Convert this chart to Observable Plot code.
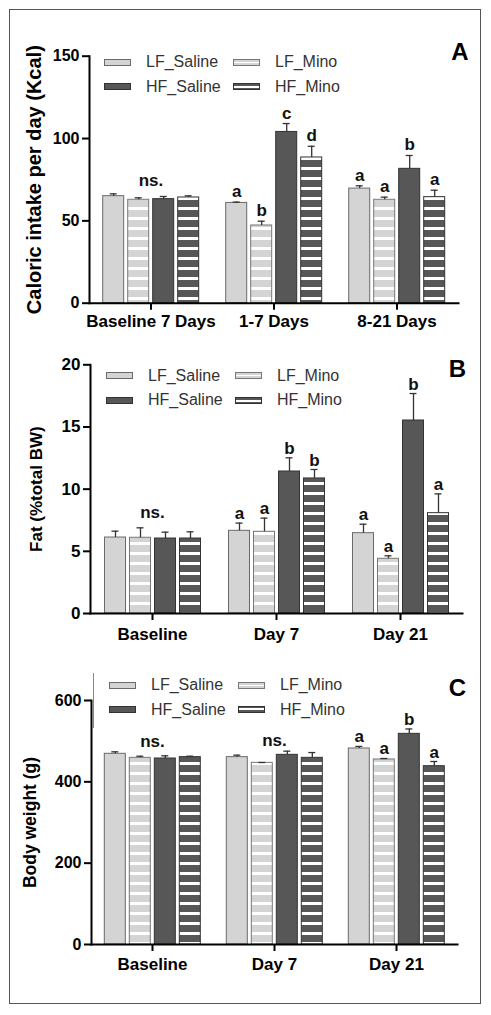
<!DOCTYPE html>
<html>
<head>
<meta charset="utf-8">
<script src="https://cdn.jsdelivr.net/npm/d3@7"></script>
<script src="https://cdn.jsdelivr.net/npm/@observablehq/plot@0.6"></script>
<style>
  html, body { margin: 0; padding: 0; background: #fff; }
  #root { position: relative; width: 491px; height: 1015px; background: #fff; font-family: "Liberation Sans", Arial, sans-serif; overflow: hidden; }
  .frame { position: absolute; left: 9px; top: 9px; width: 472px; height: 995px; border: 1px solid #555; box-sizing: border-box; }
  .panel { position: absolute; left: 0; }
  .legend { position: absolute; }
  .item { position: absolute; display: flex; align-items: center; font-size: 16px; color: #333; white-space: nowrap; }
  .sw { width: 27px; height: 7px; box-sizing: border-box; margin-right: 15px; }
  .plab { position: absolute; font-size: 24px; font-weight: bold; color: #000; transform: translate(-50%, -50%); }
</style>
</head>
<body>
<div id="root"><div class="frame"></div></div>
<script>
// ---------- data ----------
const series = ["LF_Saline", "LF_Mino", "HF_Saline", "HF_Mino"];

// Panel A: caloric intake per day (Kcal)
const intakeGroups = ["Baseline 7 Days", "1-7 Days", "8-21 Days"];
const intakeMean = [[65.0, 62.8, 63.2, 64.2], [60.9, 47.2, 104.0, 88.5], [69.6, 62.8, 81.6, 64.4]];
const intakeSem = [[1.4, 1.2, 1.6, 1.0], [0.5, 2.6, 5.1, 6.8], [1.7, 1.6, 8.1, 4.2]];
const intakeLetters = [["", "", "", ""], ["a", "b", "c", "d"], ["a", "a", "b", "a"]];
const intakeNs = ["ns.", "", ""];
const intakeTicks = [0, 50, 100, 150];

// Panel B: fat (% total BW)
const fatGroups = ["Baseline", "Day 7", "Day 21"];
const fatMean = [[6.11, 6.09, 6.03, 6.03], [6.65, 6.57, 11.42, 10.86], [6.46, 4.40, 15.52, 8.07]];
const fatSem = [[0.51, 0.80, 0.51, 0.54], [0.62, 1.10, 1.10, 0.72], [0.72, 0.24, 2.17, 1.55]];
const fatLetters = [["", "", "", ""], ["a", "a", "b", "b"], ["a", "a", "b", "a"]];
const fatNs = ["ns.", "", ""];
const fatTicks = [0, 5, 10, 15, 20];

// Panel C: body weight (g)
const bwGroups = ["Baseline", "Day 7", "Day 21"];
const bwMean = [[468.9, 459.0, 457.4, 460.7], [460.7, 446.7, 466.4, 459.0], [482.0, 455.0, 518.0, 438.5]];
const bwSem = [[4.9, 4.0, 6.6, 2.3], [4.9, 0.8, 9.0, 13.0], [5.0, 2.4, 12.0, 11.5]];
const bwLetters = [["", "", "", ""], ["", "", "", ""], ["a", "a", "b", "a"]];
const bwNs = ["ns.", "ns.", ""];
const bwTicks = [0, 200, 400, 600];

// ---------- styling ----------
const FONT = "'Liberation Sans', Arial, sans-serif";
const LIGHT = "#d4d4d4", DARK = "#575757";

function buildRows(groups, mean, sem, letters) {
  return groups.flatMap((g, i) => series.map((s, j) => ({
    group: g, series: s, mean: mean[i][j], top: mean[i][j] + sem[i][j], letter: letters[i][j]
  })));
}

function panel(cfg) {
  const rows = buildRows(cfg.groups, cfg.mean, cfg.sem, cfg.letters);
  const nsRows = cfg.groups.map((g, i) => ({
    group: g, label: cfg.ns[i],
    top: d3.max(rows.filter(r => r.group === g), r => r.top)
  })).filter(d => d.label);
  const id = cfg.id;
  const fills = {
    LF_Saline: LIGHT, LF_Mino: `url(#${id}-lfmino)`, HF_Saline: DARK, HF_Mino: `url(#${id}-hfmino)`
  };
  const strokes = {LF_Saline: "#6a6a6a", LF_Mino: "#777", HF_Saline: "#333", HF_Mino: "#333"};
  const svg = Plot.plot({
    width: 491, height: cfg.height,
    marginLeft: cfg.marginLeft, marginRight: cfg.marginRight,
    marginTop: cfg.marginTop, marginBottom: cfg.marginBottom,
    style: {fontFamily: FONT, background: "transparent", overflow: "visible", color: "#000"},
    fx: {domain: cfg.groups, padding: 0},
    x: {domain: series, paddingInner: 0.18, paddingOuter: 0.5, axis: null},
    y: {domain: cfg.yDomain, axis: null},
    marks: [
      ...series.map(s => Plot.barY(rows.filter(r => r.series === s), {
        fx: "group", x: "series", y: "mean", fill: fills[s], stroke: strokes[s], strokeWidth: 1
      })),
      Plot.ruleX(rows, {fx: "group", x: "series", y1: "mean", y2: "top", stroke: "#333", strokeWidth: 1.3}),
      Plot.tickY(rows, {fx: "group", x: "series", y: "top", insetLeft: 7, insetRight: 7, stroke: "#333", strokeWidth: 1.3}),
      Plot.text(rows.filter(r => r.letter), {
        fx: "group", x: "series", y: "top", text: "letter", lineAnchor: "bottom", dy: cfg.letterDy,
        fontSize: 17, fontWeight: "bold", fill: "#111"
      }),
      Plot.text(nsRows, {
        fx: "group", y: "top", text: "label", lineAnchor: "bottom", dy: cfg.nsDy,
        fontSize: 17, fontWeight: "bold", fill: "#111"
      }),
      Plot.frame({anchor: "left", facet: "super", stroke: "#000", strokeWidth: 2}),
      Plot.frame({anchor: "bottom", facet: "super", stroke: "#000", strokeWidth: 2}),
      Plot.axisY({ticks: cfg.ticks, tickSize: 7, tickPadding: 3, strokeWidth: 2, fontSize: cfg.tickFont, fontWeight: "bold", label: null, tickFormat: d => String(d)}),
      Plot.axisY({ticks: [], tickSize: 0, label: cfg.yLabel, labelAnchor: "center", labelArrow: "none", labelOffset: cfg.labelOffset, fontSize: cfg.titleFont, fontWeight: "bold"}),
      Plot.axisFx({anchor: "bottom", tickSize: 7, tickPadding: cfg.fxPad, strokeWidth: 2, fontSize: 17, fontWeight: "bold", label: null})
    ]
  });
  // striped fills (patterns) for the Mino groups
  const defs = d3.select(svg).insert("defs", ":first-child");
  const addPattern = (pid, color) => {
    const p = defs.append("pattern").attr("id", pid).attr("patternUnits", "userSpaceOnUse")
      .attr("width", 10).attr("height", 10);
    p.append("rect").attr("width", 10).attr("height", 10).attr("fill", color);
    p.append("rect").attr("y", 7).attr("width", 10).attr("height", 3).attr("fill", "#fff");
  };
  addPattern(`${id}-lfmino`, LIGHT);
  addPattern(`${id}-hfmino`, DARK);
  svg.classList.add("panel");
  svg.style.top = cfg.top + "px";
  return svg;
}

const root = document.getElementById("root");

function legend(x0, y0, extraClass) {
  const div = document.createElement("div");
  div.className = "legend";
  div.style.left = x0 + "px";
  div.style.top = y0 + "px";
  const swatch = {
    LF_Saline: `background:${LIGHT};border:1px solid #6a6a6a;`,
    LF_Mino: `background:linear-gradient(${LIGHT} 0 35%, #fff 35% 65%, ${LIGHT} 65%);border:1px solid #777;`,
    HF_Saline: `background:${DARK};border:1px solid #333;`,
    HF_Mino: `background:linear-gradient(${DARK} 0 30%, #fff 30% 70%, ${DARK} 70%);border:1px solid #333;`
  };
  const pos = {LF_Saline: [0, 0], LF_Mino: [129, 0], HF_Saline: [0, 24.5], HF_Mino: [129, 24.5]};
  for (const s of series) {
    const it = document.createElement("div");
    it.className = "item";
    it.style.left = pos[s][0] + "px";
    it.style.top = (pos[s][1] - 10) + "px";
    it.style.height = "20px";
    it.innerHTML = `<div class="sw" style="${swatch[s]}"></div><span>${s}</span>`;
    div.appendChild(it);
  }
  root.appendChild(div);
  return div;
}

function panelLabel(t, x, y) {
  const d = document.createElement("div");
  d.className = "plab";
  d.textContent = t;
  d.style.left = x + "px";
  d.style.top = y + "px";
  root.appendChild(d);
}

root.appendChild(panel({
  id: "pa", top: 0, height: 335, marginTop: 55.7, marginBottom: 32.3, marginLeft: 88.3, marginRight: 32.5,
  groups: intakeGroups, mean: intakeMean, sem: intakeSem, letters: intakeLetters, ns: intakeNs,
  yDomain: [0, 150], ticks: intakeTicks, yLabel: "Caloric intake per day (Kcal)",
  labelOffset: 63, titleFont: 20, tickFont: 16, fxPad: 5, letterDy: -5, nsDy: -8
}));
root.appendChild(panel({
  id: "pb", top: 335, height: 310, marginTop: 29.3, marginBottom: 32, marginLeft: 89.5, marginRight: 29.5,
  groups: fatGroups, mean: fatMean, sem: fatSem, letters: fatLetters, ns: fatNs,
  yDomain: [0, 20], ticks: fatTicks, yLabel: "Fat (%total BW)",
  labelOffset: 61, titleFont: 17, tickFont: 17, fxPad: 7, letterDy: -4, nsDy: -10
}));
root.appendChild(panel({
  id: "pc", top: 645, height: 340, marginTop: 55, marginBottom: 41, marginLeft: 90.7, marginRight: 34,
  groups: bwGroups, mean: bwMean, sem: bwSem, letters: bwLetters, ns: bwNs,
  yDomain: [0, 600], ticks: bwTicks, yLabel: "Body weight (g)",
  labelOffset: 68, titleFont: 17.5, tickFont: 16, fxPad: 6, letterDy: -4, nsDy: -5
}));

legend(104, 62);
legend(106, 375.7);
const lc = legend(109, 685);
// thin stray vertical rule at the legend's left side in panel C
const vr = document.createElement("div");
vr.style.cssText = "position:absolute;left:-16px;top:-12px;width:1px;height:55px;background:#888;";
lc.appendChild(vr);

panelLabel("A", 460, 52);
panelLabel("B", 457.5, 369);
panelLabel("C", 457.5, 687.5);
</script>
</body>
</html>
